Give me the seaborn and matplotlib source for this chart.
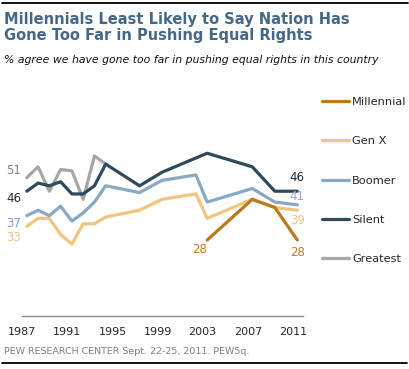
import pandas as pd
import seaborn as sns
import matplotlib
matplotlib.use("Agg")
import matplotlib.pyplot as plt

# datos (% de acuerdo)
years_greatest = [1987, 1988, 1989, 1990, 1991, 1992, 1993, 1994]
greatest = [51, 55, 46, 54, 53.5, 43, 59, 56]

years_silent = [1987, 1988, 1989, 1990, 1991, 1992, 1993, 1994, 1997, 1999, 2003, 2007, 2009, 2011]
silent = [46, 49, 48, 49.5, 45, 45, 48, 56, 48, 53, 60, 55, 46, 46]

years_boomer = [1987, 1988, 1989, 1990, 1991, 1992, 1993, 1994, 1997, 1999, 2002, 2003, 2007, 2009, 2011]
boomer = [37, 39, 37, 40.5, 35, 38, 42, 48, 45.5, 50, 52, 42, 47, 42, 41]

years_genx = [1987, 1988, 1989, 1990, 1991, 1992, 1993, 1994, 1997, 1999, 2002, 2003, 2007, 2009, 2011]
genx = [33, 36, 36, 30, 26.5, 34, 34, 36.5, 39, 43, 45, 36, 43, 40, 39]

years_millennial = [2003, 2007, 2009, 2011]
millennial = [28, 43, 40, 28]

generaciones = ["Millennial", "Gen X", "Boomer", "Silent", "Greatest"]
colores = {"Millennial": "#BD7A1A", "Gen X": "#F3C47F", "Boomer": "#86A9C4",
           "Silent": "#2F4A5D", "Greatest": "#A6A6A6"}
xticks = [1987, 1991, 1995, 1999, 2003, 2007, 2011]

def tabla(nombre, anios, valores):
    # los puntos de la encuesta van un poco despues de la marca del anio
    return pd.DataFrame({"anio": [a + 0.4 for a in anios], "valor": valores, "gen": nombre})

datos = {
    "Greatest": tabla("Greatest", years_greatest, greatest),
    "Gen X": tabla("Gen X", years_genx, genx),
    "Boomer": tabla("Boomer", years_boomer, boomer),
    "Silent": tabla("Silent", years_silent, silent),
    "Millennial": tabla("Millennial", years_millennial, millennial),
}

sns.set_style("white")
plt.rcParams["font.family"] = ["DejaVu Sans"]

fig = plt.figure(figsize=(4.1, 3.69), dpi=100)
ax = fig.add_axes([22.3 / 410, (369 - 316) / 369, (303 - 22.3) / 410, (316 - 80) / 369])

lineas = {}
for g in ["Greatest", "Gen X", "Boomer", "Silent", "Millennial"]:
    sns.lineplot(data=datos[g], x="anio", y="valor", color=colores[g], linewidth=2.3,
                 ax=ax, legend=False)
    lineas[g] = ax.lines[-1]

ax.set_xlim(1987, 2011.9)
ax.set_ylim(0, 87)
ax.set_xticks(xticks)
ax.set_xticklabels([str(x) for x in xticks], fontsize=8)
ax.set_yticks([])
ax.set_xlabel("")
ax.set_ylabel("")
for lado in ["top", "right", "left"]:
    ax.spines[lado].set_visible(False)
ax.spines["bottom"].set_color("#8C8C8C")
ax.spines["bottom"].set_linewidth(1)
ax.tick_params(axis="x", direction="out", length=4, width=1, color="#8C8C8C", pad=4)

# etiquetas de valores
def etiqueta(texto, x, y, dx, dy, color):
    ax.annotate(texto, (x + 0.4, y), xytext=(dx, dy), textcoords="offset pixels",
                ha="center", va="center", fontsize=8.5, color=color)

etiqueta("51", 1987, greatest[0], -13, 7, "#8C7E8C")
etiqueta("46", 1987, silent[0], -13, -7, "#1E2D3C")
etiqueta("37", 1987, boomer[0], -13, -8, "#7F9FC6")
etiqueta("33", 1987, genx[0], -13, -11, "#F3C07F")
etiqueta("28", 2003, millennial[0], -8, -9, "#C47D1C")
etiqueta("46", 2011, silent[-1], 0, 14, "#1E2D3C")
etiqueta("41", 2011, boomer[-1], 0, 8, "#9CA2D2")
etiqueta("39", 2011, genx[-1], 0, -10, "#F3C286")
etiqueta("28", 2011, millennial[-1], 0, -12, "#C47D1C")

# leyenda a la derecha
ax.legend([lineas[g] for g in generaciones], generaciones, loc="upper left",
          bbox_to_anchor=(322 / 410, 1 - 97 / 369), bbox_transform=fig.transFigure,
          frameon=False, fontsize=8.2, handlelength=2.4, handletextpad=0.25,
          labelspacing=2.57, borderaxespad=0, borderpad=0)

# titulo, subtitulo y fuente
fig.text(4 / 410, 1 - 12 / 369, "Millennials Least Likely to Say Nation Has\nGone Too Far in Pushing Equal Rights",
         fontsize=10.5, fontweight="bold", color="#43688A", va="top", linespacing=1.05)
fig.text(4 / 410, 1 - 60 / 369, "% agree we have gone too far in pushing equal rights in this country",
         fontsize=7.8, style="italic", color="#111111", va="center")
fig.text(4 / 410, 1 - 351 / 369, "PEW RESEARCH CENTER Sept. 22-25, 2011. PEW5q.",
         fontsize=6.8, color="#808080", va="center")

fig.add_artist(plt.Line2D([2 / 410, 408 / 410], [1 - 3 / 369, 1 - 3 / 369], color="black", linewidth=1.3))
fig.add_artist(plt.Line2D([2 / 410, 407 / 410], [1 - 363 / 369, 1 - 363 / 369], color="black", linewidth=1.3))

fig.savefig("out.png", dpi=100)
